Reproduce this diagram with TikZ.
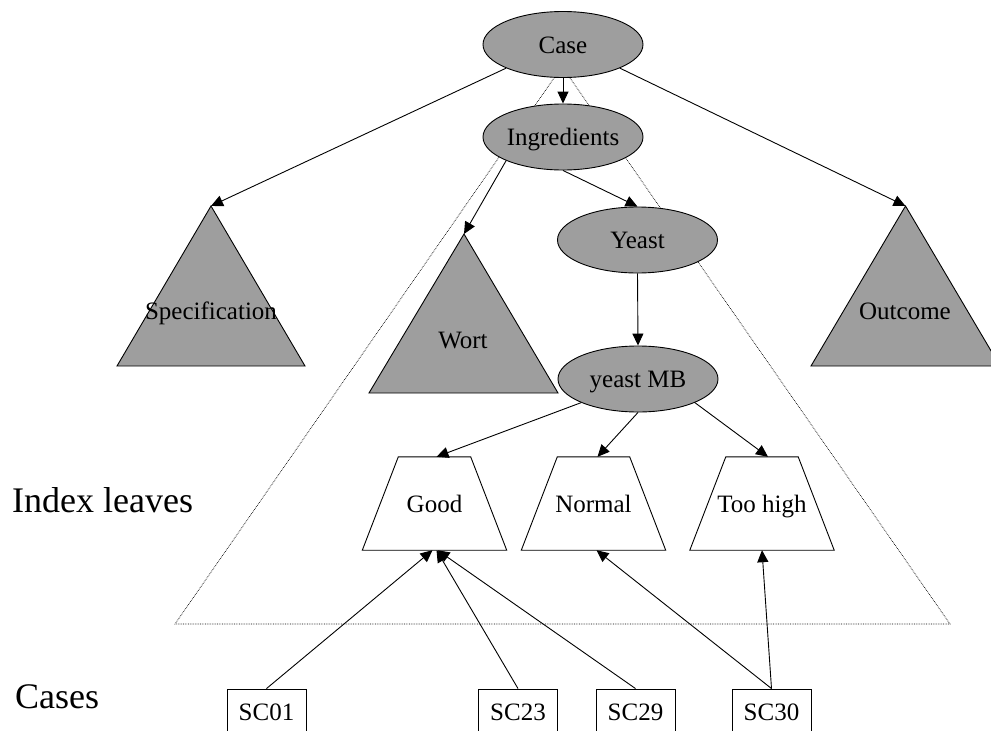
\documentclass[tikz,border=0pt]{standalone}
\usepackage{fontspec}
\setmainfont{Liberation Serif}
\usetikzlibrary{shapes.geometric,arrows.meta,calc}
\definecolor{nodegray}{RGB}{158,158,158}
\newcommand{\nfont}{\fontsize{25}{29}\selectfont}
\newcommand{\bigfont}{\fontsize{36}{40}\selectfont}
\newcommand{\trapout}[1]{\draw[line width=0.9pt] (#1.south west) -- (#1.south east) -- ($(#1.north east)+(-36,0)$) -- ($(#1.north west)+(36,0)$) -- cycle;}
\tikzset{
  txt/.style={font=\nfont, text height=17pt, text depth=0pt},
  ell/.style={ellipse, draw, fill=nodegray, line width=0.9pt, minimum width=160pt, minimum height=66pt, inner sep=0pt, txt},
  leaf/.style={rectangle, minimum width=144pt, minimum height=93pt, inner sep=0pt, txt},
  casebox/.style={draw, fill=white, line width=0.9pt, minimum width=79pt, minimum height=46pt, inner sep=0pt, txt},
  arr/.style={-{Triangle[length=12pt,width=11pt]}, line width=0.9pt},
  tri/.style={draw, fill=nodegray, line width=0.9pt},
  dotline/.style={densely dotted, line width=0.7pt},
  lbl/.style={anchor=base, inner sep=0pt, font=\nfont},
  biglbl/.style={anchor=base west, inner sep=0pt, font=\bigfont}
}
\begin{document}
\begin{tikzpicture}[x=1pt, y=-1pt]
\useasboundingbox (0,0) rectangle (991,731);
\clip (0,0) rectangle (991,731);
% dotted sub-tree triangle
\draw[dotline] (562,66.5) -- (175,624) -- (950,624) -- cycle;
% subtree triangles
\coordinate (specapex) at (211,206);
\draw[tri] (specapex) -- (117,366) -- (305,366) -- cycle;
\node[lbl] (spec) at (211,319) {Specification};
\coordinate (wortapex) at (464,234);
\draw[tri] (wortapex) -- (369,393) -- (558,393) -- cycle;
\node[lbl] (wort) at (463,348) {Wort};
\coordinate (outapex) at (905.5,206);
\draw[tri] (outapex) -- (811,366) -- (1000,366) -- cycle;
\node[lbl] (outc) at (905,319) {Outcome};
% ellipse nodes
\node[ell] (case) at (563,44.5) {Case};
\node[ell] (ing) at (563,137) {Ingredients};
\node[ell] (yeast) at (637.5,240) {Yeast};
\node[ell] (ymb) at (638,379) {yeast MB};
% index leaves
\node[leaf] (good) at (434.5,503.5) {Good};
\node[leaf] (normal) at (593.5,503.5) {Normal};
\node[leaf] (toohigh) at (762,503.5) {Too high};
\trapout{good}
\trapout{normal}
\trapout{toohigh}
% cases
\node[casebox] (sc01) at (266.5,712) {SC01};
\node[casebox] (sc23) at (518,712) {SC23};
\node[casebox] (sc29) at (635.5,712) {SC29};
\node[casebox] (sc30) at (771.5,712) {SC30};
% labels
\node[biglbl] (ilbl) at (12,512) {Index leaves};
\node[biglbl] (clbl) at (15,708) {Cases};
% arrows
\draw[arr] (case.south west) -- (specapex);
\draw[arr] (case.south east) -- (outapex);
\draw[arr] (case.south) -- (ing.north);
\draw[arr] (ing.south west) -- (wortapex);
\draw[arr] (ing.south) -- (yeast.north);
\draw[arr] (yeast.south) -- (ymb.north);
\draw[arr] (ymb.south west) -- ($(good.north)+(2,0)$);
\draw[arr] (ymb.south) -- ($(normal.north)+(4,0)$);
\draw[arr] (ymb.south east) -- ($(toohigh.north)+(6,0)$);
\draw[arr] (sc01.north) -- ($(good.south)+(-2,0)$);
\draw[arr] (sc23.north) -- ($(good.south)+(2,0)$);
\draw[arr] (sc29.north) -- ($(good.south)+(3,0)$);
\draw[arr] (sc30.north) -- ($(normal.south)+(3,0)$);
\draw[arr] (sc30.north) -- (toohigh.south);
\end{tikzpicture}
\end{document}
